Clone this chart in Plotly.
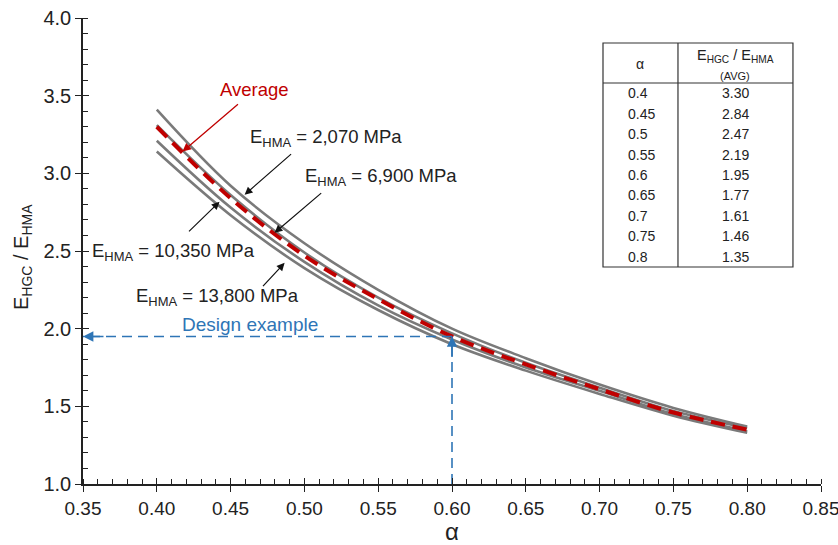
import plotly.graph_objects as go

# ---- data ----
alpha = [0.40, 0.45, 0.50, 0.55, 0.60, 0.65, 0.70, 0.75, 0.80]
e2070 = [3.41, 2.92, 2.55, 2.25, 2.00, 1.81, 1.64, 1.49, 1.37]
e6900 = [3.31, 2.86, 2.49, 2.20, 1.97, 1.78, 1.62, 1.47, 1.36]
avg = [3.30, 2.84, 2.47, 2.19, 1.95, 1.77, 1.61, 1.46, 1.35]
e10350 = [3.21, 2.78, 2.43, 2.15, 1.93, 1.75, 1.60, 1.45, 1.34]
e13800 = [3.14, 2.73, 2.39, 2.12, 1.90, 1.73, 1.58, 1.44, 1.33]

tbl_alpha = ["0.4", "0.45", "0.5", "0.55", "0.6", "0.65", "0.7", "0.75", "0.8"]
tbl_avg = avg

design_alpha = 0.60
design_ratio = 1.95

x_ticks = [0.35, 0.40, 0.45, 0.50, 0.55, 0.60, 0.65, 0.70, 0.75, 0.80, 0.85]
y_ticks = [1.0, 1.5, 2.0, 2.5, 3.0, 3.5, 4.0]

GRAY = "#7a7a7a"
RED = "#c00000"
BLUE = "#2e75b6"
FONT = "Liberation Sans, Arial, sans-serif"
TXT = "#222222"

fig = go.Figure()

for ys in [e13800, e10350, e6900, e2070]:
    fig.add_trace(go.Scatter(x=alpha, y=ys, mode="lines",
                             line=dict(color=GRAY, width=2.6, shape="spline"),
                             hoverinfo="skip", showlegend=False))
fig.add_trace(go.Scatter(x=alpha, y=avg, mode="lines",
                         line=dict(color=RED, width=4, dash="14px,8px", shape="spline"),
                         showlegend=False))

# design example dashed lines
fig.add_trace(go.Scatter(x=[design_alpha, x_ticks[0]], y=[design_ratio, design_ratio],
                         mode="lines", line=dict(color=BLUE, width=1.6, dash="10px,6px"),
                         showlegend=False))
fig.add_trace(go.Scatter(x=[design_alpha, design_alpha], y=[y_ticks[0], design_ratio],
                         mode="lines", line=dict(color=BLUE, width=1.6, dash="10px,6px"),
                         showlegend=False))

# invisible trace for overlay axes (crossing major ticks)
fig.add_trace(go.Scatter(x=[0.35, 0.85], y=[1.0, 4.0], xaxis="x2", yaxis="y2",
                         mode="markers", marker=dict(opacity=0), hoverinfo="skip",
                         showlegend=False))

ann = []
# arrowheads for design example
ann.append(dict(x=x_ticks[0], y=design_ratio, ax=22, ay=0, axref="pixel", ayref="pixel",
                text="", showarrow=True, arrowhead=2, arrowsize=1.3, arrowwidth=1.6,
                arrowcolor=BLUE))
ann.append(dict(x=design_alpha, y=design_ratio, ax=0, ay=22, text="", showarrow=True,
                arrowhead=2, arrowsize=1.3, arrowwidth=1.6, arrowcolor=BLUE))
ann.append(dict(x=0.4629, y=2.026, text="Design example", showarrow=False,
                font=dict(family=FONT, size=19, color=BLUE)))

# Average
ann.append(dict(x=0.4174, y=3.14, ax=0.456, ay=3.453, axref="x", ayref="y", text="",
                showarrow=True, arrowhead=2, arrowsize=1.3, arrowwidth=1.3, arrowcolor=RED))
ann.append(dict(x=0.466, y=3.537, text="Average", showarrow=False,
                font=dict(family=FONT, size=18.5, color=RED)))

labels = [
    ("E<sub>HMA</sub> = 2,070 MPa", 0.5144, 3.226, (0.4595, 2.862), (0.492, 3.132)),
    ("E<sub>HMA</sub> = 6,900 MPa", 0.5522, 2.979, (0.4798, 2.617), (0.5124, 2.881)),
    ("E<sub>HMA</sub> = 10,350 MPa", 0.4114, 2.495, (0.4425, 2.817), (0.4208, 2.617)),
    ("E<sub>HMA</sub> = 13,800 MPa", 0.4408, 2.206, (0.4866, 2.424), (0.471, 2.264)),
]
for txt, tx, ty, head, tail in labels:
    ann.append(dict(x=tx, y=ty, text=txt, showarrow=False,
                    font=dict(family=FONT, size=18.5, color=TXT)))
    ann.append(dict(x=head[0], y=head[1], ax=tail[0], ay=tail[1], axref="x", ayref="y",
                    text="", showarrow=True, arrowhead=2, arrowsize=1.3, arrowwidth=1.2,
                    arrowcolor="#111111"))

# y-axis title (placed as rotated text so it can sit close to the left edge)
ann.append(dict(xref="paper", yref="paper", x=-0.0827, y=0.487, textangle=-90,
                text="E<sub>HGC</sub> / E<sub>HMA</sub>", showarrow=False,
                xanchor="center", yanchor="middle",
                font=dict(family=FONT, size=20, color=TXT)))

# ---- table ----
L, R, D = 0.7046, 0.962, 0.8062
T, H, B = 0.9464, 0.8605, 0.4657
shapes = [
    dict(type="rect", xref="paper", yref="paper", x0=L, x1=R, y0=B, y1=T,
         line=dict(color="#333333", width=1.2)),
    dict(type="line", xref="paper", yref="paper", x0=L, x1=R, y0=H, y1=H,
         line=dict(color="#333333", width=1.2)),
    dict(type="line", xref="paper", yref="paper", x0=D, x1=D, y0=B, y1=T,
         line=dict(color="#333333", width=1.2)),
]
ann.append(dict(xref="paper", yref="paper", x=0.7547, y=0.901, text="α", showarrow=False,
                xanchor="center", yanchor="middle",
                font=dict(family=FONT, size=14, color=TXT)))
ann.append(dict(xref="paper", yref="paper", x=0.884, y=0.918,
                text="E<sub>HGC</sub> / E<sub>HMA</sub>", showarrow=False,
                xanchor="center", yanchor="middle",
                font=dict(family=FONT, size=14.5, color=TXT)))
ann.append(dict(xref="paper", yref="paper", x=0.884, y=0.876, text="(AVG)", showarrow=False,
                xanchor="center", yanchor="middle",
                font=dict(family=FONT, size=11, color=TXT)))
nrow = len(tbl_alpha)
rh = (H - B) / nrow
for i, (a, v) in enumerate(zip(tbl_alpha, tbl_avg)):
    yc = H - rh * (i + 0.5)
    ann.append(dict(xref="paper", yref="paper", x=0.7358, y=yc, text=a, xanchor="left",
                    yanchor="middle", showarrow=False,
                    font=dict(family=FONT, size=14, color=TXT)))
    ann.append(dict(xref="paper", yref="paper", x=0.884, y=yc, text=f"{v:.2f}",
                    xanchor="center", yanchor="middle", showarrow=False,
                    font=dict(family=FONT, size=14, color=TXT)))

axis_common = dict(showgrid=False, zeroline=False, showline=True, linecolor="#222222",
                   linewidth=1.5, tickcolor="#222222", tickwidth=1.3, automargin=False,
                   ticklabeloverflow="allow")

XR = [0.35, 0.85]
fig.update_layout(
    width=838, height=545,
    margin=dict(l=83, r=17, t=18, b=61),
    paper_bgcolor="white", plot_bgcolor="white",
    showlegend=False,
    annotations=ann,
    shapes=shapes,
    xaxis=dict(range=XR, tickvals=x_ticks, ticktext=[f"{v:.2f}" for v in x_ticks],
               ticks="outside", ticklen=6,
               tickfont=dict(family=FONT, size=19, color=TXT),
               minor=dict(dtick=0.01, tick0=0.35, ticks="inside", ticklen=5,
                          tickcolor="#222222", tickwidth=1.1),
               title=dict(text="α", font=dict(family=FONT, size=24, color=TXT), standoff=2),
               **axis_common),
    yaxis=dict(range=[1.0, 4.0], tickvals=y_ticks, ticktext=[f"{v:.1f}" for v in y_ticks],
               ticks="outside", ticklen=6,
               tickfont=dict(family=FONT, size=20, color=TXT),
               minor=dict(dtick=0.1, tick0=1.0, ticks="inside", ticklen=5,
                          tickcolor="#222222", tickwidth=1.1),
               **axis_common),
    xaxis2=dict(overlaying="x", range=XR, tickvals=x_ticks, ticks="inside",
                ticklen=6, tickwidth=1.3, tickcolor="#222222", showticklabels=False,
                showline=False, showgrid=False, zeroline=False, anchor="y2", side="bottom",
                automargin=False),
    yaxis2=dict(overlaying="y", range=[1.0, 4.0], tickvals=y_ticks, ticks="inside",
                ticklen=6, tickwidth=1.3, tickcolor="#222222", showticklabels=False,
                showline=False, showgrid=False, zeroline=False, anchor="x2", side="left",
                automargin=False),
)

fig.write_html("out.html", config={"displayModeBar": False})

# remove default page margin so the figure sits at the window's top-left corner
with open("out.html", "r", encoding="utf-8") as f:
    html = f.read()
html = html.replace("<head>", "<head><style>html,body{margin:0;padding:0;}</style>", 1)
with open("out.html", "w", encoding="utf-8") as f:
    f.write(html)
